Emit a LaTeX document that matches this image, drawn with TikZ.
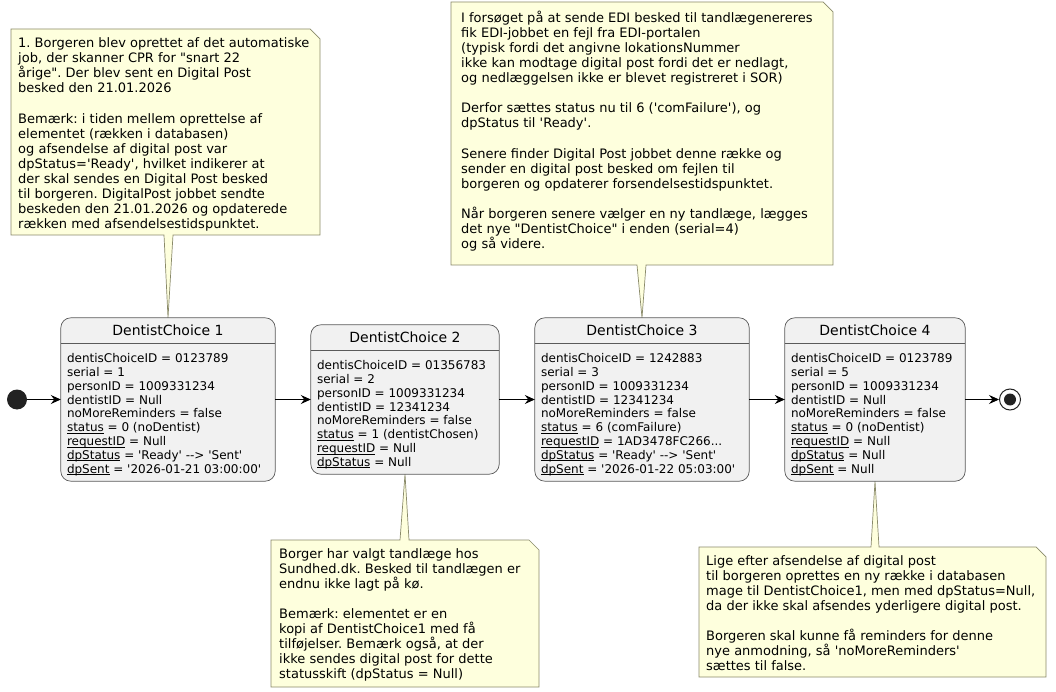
\documentclass[tikz,border=0pt]{standalone}
\usepackage{fontspec}
\setmainfont{DejaVu Sans}[Ligatures=TeXOff]
\usetikzlibrary{arrows.meta,calc}
\definecolor{notefill}{HTML}{FEFFDD}
\definecolor{noteline}{HTML}{8A8A6A}
\definecolor{statefill}{HTML}{F1F1F1}
\definecolor{stateline}{HTML}{5A5A5A}
\definecolor{dotcol}{HTML}{222222}
\newcommand{\ul}[1]{\underline{\smash{#1}}}
\frenchspacing
\begin{document}
\begin{tikzpicture}[x=1pt,y=-1pt,
  statebox/.style={draw=stateline, line width=0.7pt, fill=statefill, rounded corners=10pt, inner sep=0, rectangle},
  sepline/.style={draw=stateline, line width=0.7pt},
  titletext/.style={font=\fontsize{14}{16.3}\selectfont, inner sep=0, anchor=base},
  bodytext/.style={font=\fontsize{12}{13.8}\selectfont, align=left, inner sep=0, anchor=north west},
  notetext/.style={font=\fontsize{13}{15.1}\selectfont, align=left, inner sep=0, anchor=north west},
  noteshape/.style={draw=noteline, fill=notefill, line width=0.7pt, line join=miter},
  flow/.style={draw=black, line width=0.9pt, -{Stealth[length=10pt,width=9pt,inset=3.5pt]}},
  startdot/.style={circle, fill=dotcol, inner sep=0, minimum size=20pt},
  enddot/.style={circle, draw=dotcol, line width=1pt, fill=white, inner sep=0, minimum size=21pt},
]
\useasboundingbox (0,0) rectangle (1056,692);
\fill[white] (0,0) rectangle (1056,692);

% state boxes (shapes only, drawn after notes below)
\path node[minimum width=214pt, minimum height=163pt, inner sep=0] (s1) at (168,399.5) {};
\path node[minimum width=188pt, minimum height=149pt, inner sep=0] (s2) at (405,399.5) {};
\path node[minimum width=214pt, minimum height=163pt, inner sep=0] (s3) at (642,399.5) {};
\path node[minimum width=180pt, minimum height=163pt, inner sep=0] (s4) at (875,399.5) {};

% notes with their stems
\path[noteshape] (11,29) -- (310,29) -- (320,39) -- (320,235) -- (173,235) -- (s1.north) -- (164,235) -- (11,235) -- cycle;
\path[noteshape] (451,2) -- (823,2) -- (833,12) -- (833,265) -- (646,265) -- (s3.north) -- (637,265) -- (451,265) -- cycle;
\path[noteshape] (271,540) -- (400,540) -- (s2.south) -- (409,540) -- (529,540) -- (539,550) -- (539,687) -- (271,687) -- cycle;
\path[noteshape] (699,547) -- (871,547) -- (s4.south) -- (879,547) -- (1036,547) -- (1046,557) -- (1046,677) -- (699,677) -- cycle;

\node[notetext] (n1) at (18,37.5) {1. Borgeren blev oprettet af det automatiske\\
job, der skanner CPR for "snart 22\\
årige". Der blev sent en Digital Post\\
besked den 21.01.2026\\
\mbox{}\\
Bemærk: i tiden mellem oprettelse af\\
elementet (rækken i databasen)\\
og afsendelse af digital post var\\
dpStatus='Ready', hvilket indikerer at\\
der skal sendes en Digital Post besked\\
til borgeren. DigitalPost jobbet sendte\\
beskeden den 21.01.2026 og opdaterede\\
rækken med afsendelsestidspunktet.};

\node[notetext] (n2) at (461,10.5) {I forsøget på at sende EDI besked til tandlægenereres\\
fik EDI-jobbet en fejl fra EDI-portalen\\
(typisk fordi det angivne lokationsNummer\\
ikke kan modtage digital post fordi det er nedlagt,\\
og nedlæggelsen ikke er blevet registreret i SOR)\\
\mbox{}\\
Derfor sættes status nu til 6 ('comFailure'), og\\
dpStatus til 'Ready'.\\
\mbox{}\\
Senere finder Digital Post jobbet denne række og\\
sender en digital post besked om fejlen til\\
borgeren og opdaterer forsendelsestidspunktet.\\
\mbox{}\\
Når borgeren senere vælger en ny tandlæge, lægges\\
det nye "DentistChoice" i enden (serial=4)\\
og så videre.};

\node[notetext] (n3) at (279,548) {Borger har valgt tandlæge hos\\
Sundhed.dk. Besked til tandlægen er\\
endnu ikke lagt på kø.\\
\mbox{}\\
Bemærk: elementet er en\\
kopi af DentistChoice1 med få\\
tilføjelser. Bemærk også, at der\\
ikke sendes digital post for dette\\
statusskift (dpStatus = Null)};

\node[notetext] (n4) at (706,555) {Lige efter afsendelse af digital post\\
til borgeren oprettes en ny række i databasen\\
mage til DentistChoice1, men med dpStatus=Null,\\
da der ikke skal afsendes yderligere digital post.\\
\mbox{}\\
Borgeren skal kunne få reminders for denne\\
nye anmodning, så 'noMoreReminders'\\
sættes til false.};

% state box outlines
\draw[statebox] (s1.north west) rectangle (s1.south east);
\draw[statebox] (s2.north west) rectangle (s2.south east);
\draw[statebox] (s3.north west) rectangle (s3.south east);
\draw[statebox] (s4.north west) rectangle (s4.south east);

\draw[sepline] ($(s1.north west)+(0,-26pt)$) -- ($(s1.north east)+(0,-26pt)$);
\draw[sepline] ($(s2.north west)+(0,-26pt)$) -- ($(s2.north east)+(0,-26pt)$);
\draw[sepline] ($(s3.north west)+(0,-26pt)$) -- ($(s3.north east)+(0,-26pt)$);
\draw[sepline] ($(s4.north west)+(0,-26pt)$) -- ($(s4.north east)+(0,-26pt)$);

\node[titletext] (t1) at ($(s1.north)+(0,-18pt)$) {DentistChoice 1};
\node[titletext] (t2) at ($(s2.north)+(0,-18pt)$) {DentistChoice 2};
\node[titletext] (t3) at ($(s3.north)+(0,-18pt)$) {DentistChoice 3};
\node[titletext] (t4) at ($(s4.north)+(0,-18pt)$) {DentistChoice 4};

\node[bodytext] (b1) at ($(s1.north west)+(6pt,-35.5pt)$) {dentisChoiceID = 0123789\\
serial = 1\\
personID = 1009331234\\
dentistID = Null\\
noMoreReminders = false\\
\ul{status} = 0 (noDentist)\\
\ul{requestID} = Null\\
\ul{dpStatus} = 'Ready' --> 'Sent'\\
\ul{dpSent} = '2026-01-21 03:00:00'};

\node[bodytext] (b2) at ($(s2.north west)+(6pt,-35.5pt)$) {dentisChoiceID = 01356783\\
serial = 2\\
personID = 1009331234\\
dentistID = 12341234\\
noMoreReminders = false\\
\ul{status} = 1 (dentistChosen)\\
\ul{requestID} = Null\\
\ul{dpStatus} = Null};

\node[bodytext] (b3) at ($(s3.north west)+(6pt,-35.5pt)$) {dentisChoiceID = 1242883\\
serial = 3\\
personID = 1009331234\\
dentistID = 12341234\\
noMoreReminders = false\\
\ul{status} = 6 (comFailure)\\
\ul{requestID} = 1AD3478FC266...\\
\ul{dpStatus} = 'Ready' --> 'Sent'\\
\ul{dpSent} = '2026-01-22 05:03:00'};

\node[bodytext] (b4) at ($(s4.north west)+(6pt,-35.5pt)$) {dentisChoiceID = 0123789\\
serial = 5\\
personID = 1009331234\\
dentistID = Null\\
noMoreReminders = false\\
\ul{status} = 0 (noDentist)\\
\ul{requestID} = Null\\
\ul{dpStatus} = Null\\
\ul{dpSent} = Null};

% start / end
\node[startdot] (init) at (17,399.5) {};
\node[enddot] (final) at (1010,399.5) {};
\fill[dotcol] (final) circle (6pt);

\draw[flow] (init) -- (s1);
\draw[flow] (s1) -- (s2);
\draw[flow] (s2) -- (s3);
\draw[flow] (s3) -- (s4);
\draw[flow] (s4) -- (final);
\end{tikzpicture}
\end{document}
